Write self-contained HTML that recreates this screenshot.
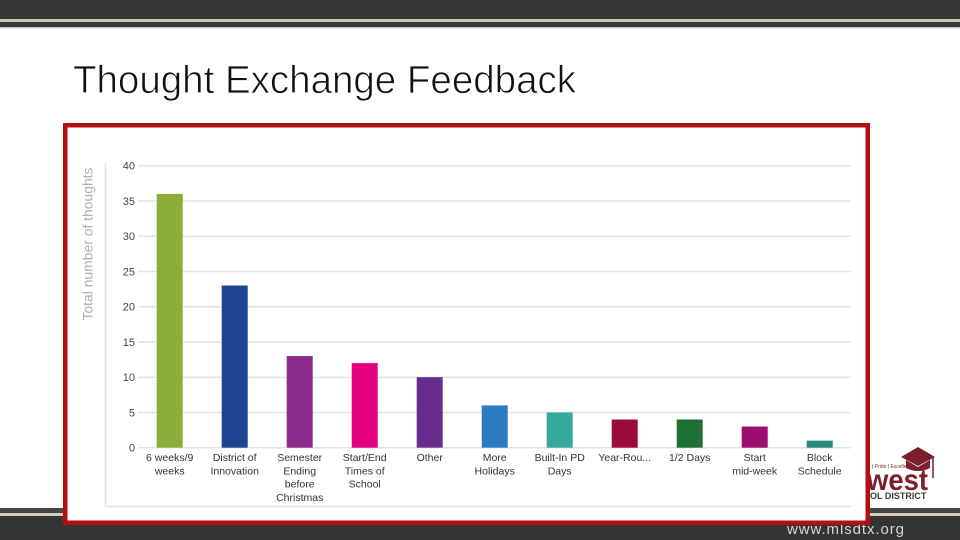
<!DOCTYPE html>
<html>
<head>
<meta charset="utf-8">
<style>
  html, body { margin: 0; padding: 0; background: #ffffff; }
  body { width: 960px; height: 540px; overflow: hidden; position: relative; }
  svg { display: block; }
  text { font-family: "Liberation Sans", Arial, sans-serif; }
</style>
</head>
<body>
<svg width="960" height="540" viewBox="0 0 960 540" xmlns="http://www.w3.org/2000/svg">
  <!-- top bar -->
  <rect x="0" y="0" width="960" height="19" fill="#363636"/>
  <rect x="0" y="19" width="960" height="3" fill="#cfc5b3"/>
  <rect x="0" y="22" width="960" height="5" fill="#3a3a3a"/>
  <rect x="0" y="27" width="960" height="1.5" fill="#c9c9c9"/>

  <!-- bottom bar -->
  <rect x="0" y="508" width="960" height="5" fill="#454545"/>
  <rect x="0" y="513" width="960" height="3" fill="#d6cdbc"/>
  <rect x="0" y="516" width="960" height="24" fill="#343434"/>
  <svg x="770" y="521" width="190" height="19" overflow="hidden">
    <text x="17" y="13" font-size="15" fill="#d8d8d8" textLength="117" lengthAdjust="spacing">www.mlsdtx.org</text>
  </svg>

  <!-- logo -->
  <g>
    <polygon points="901,457 918,447 935,457 918,466" fill="#7a1f2b"/>
    <path d="M906,460 L906,468 Q918,474 930,468 L930,460 L918,467 Z" fill="#7a1f2b"/>
    <line x1="933" y1="458" x2="933" y2="478" stroke="#7a1f2b" stroke-width="1.5"/>
    <text x="872" y="468" font-size="5" fill="#7a1f2b">| Pride | Excellence</text>
    <text x="867" y="490" font-size="30" font-weight="bold" fill="#7a1f2b" textLength="61" lengthAdjust="spacingAndGlyphs">west</text>
    <text x="870" y="499" font-size="9" font-weight="bold" fill="#3a3a3a">OL DISTRICT</text>
  </g>

  <!-- title -->
  <text x="73" y="93" font-size="38.5" fill="#111" stroke="#ffffff" stroke-width="0.8" textLength="503" lengthAdjust="spacingAndGlyphs">Thought Exchange Feedback</text>

  <!-- red box -->
  <rect x="65.25" y="125.25" width="802.5" height="397.5" fill="#ffffff" stroke="#b20f12" stroke-width="4.5"/>

  <!-- card borders -->
  <line x1="105.5" y1="163" x2="105.5" y2="507" stroke="#e2e2e2" stroke-width="1.5"/>
  <line x1="105" y1="506.5" x2="851" y2="506.5" stroke="#e2e2e2" stroke-width="1.5"/>

  <!-- gridlines -->
  <g stroke="#e4e4e4" stroke-width="1.5">
    <line x1="138" y1="447.7" x2="851" y2="447.7"/>
    <line x1="138" y1="412.45" x2="851" y2="412.45"/>
    <line x1="138" y1="377.2" x2="851" y2="377.2"/>
    <line x1="138" y1="341.95" x2="851" y2="341.95"/>
    <line x1="138" y1="306.7" x2="851" y2="306.7"/>
    <line x1="138" y1="271.45" x2="851" y2="271.45"/>
    <line x1="138" y1="236.2" x2="851" y2="236.2"/>
    <line x1="138" y1="200.95" x2="851" y2="200.95"/>
    <line x1="138" y1="165.7" x2="851" y2="165.7"/>
  </g>

  <!-- y tick labels -->
  <g font-size="11" fill="#444" text-anchor="end">
    <text x="135" y="451.7">0</text>
    <text x="135" y="416.45">5</text>
    <text x="135" y="381.2">10</text>
    <text x="135" y="345.95">15</text>
    <text x="135" y="310.7">20</text>
    <text x="135" y="275.45">25</text>
    <text x="135" y="240.2">30</text>
    <text x="135" y="204.95">35</text>
    <text x="135" y="169.7">40</text>
  </g>

  <!-- y axis title -->
  <text transform="translate(92.5,244) rotate(-90)" text-anchor="middle" font-size="13.5" fill="#b0b0b0" textLength="153" lengthAdjust="spacingAndGlyphs">Total number of thoughts</text>

  <!-- bars -->
  <rect x="156.7" y="193.9" width="26" height="253.8" fill="#8bae3a"/>
  <rect x="221.7" y="285.5" width="26" height="162.2" fill="#1f4590"/>
  <rect x="286.7" y="356.05" width="26" height="91.65" fill="#8b2a8b"/>
  <rect x="351.7" y="363.1" width="26" height="84.6" fill="#e5007d"/>
  <rect x="416.7" y="377.2" width="26" height="70.5" fill="#662d8f"/>
  <rect x="481.7" y="405.4" width="26" height="42.3" fill="#2b7bc0"/>
  <rect x="546.7" y="412.45" width="26" height="35.25" fill="#36a99c"/>
  <rect x="611.7" y="419.5" width="26" height="28.2" fill="#9c0b3b"/>
  <rect x="676.7" y="419.5" width="26" height="28.2" fill="#1f6f35"/>
  <rect x="741.7" y="426.55" width="26" height="21.15" fill="#9b0d6e"/>
  <rect x="806.7" y="440.65" width="26" height="7.05" fill="#2a8a7c"/>

  <!-- x labels -->
  <g font-size="10.5" fill="#333" text-anchor="middle">
    <text x="169.7" y="461">6 weeks/9</text>
    <text x="169.7" y="474.3">weeks</text>

    <text x="234.7" y="461">District of</text>
    <text x="234.7" y="474.3">Innovation</text>

    <text x="299.7" y="461">Semester</text>
    <text x="299.7" y="474.3">Ending</text>
    <text x="299.7" y="487.6">before</text>
    <text x="299.7" y="500.9">Christmas</text>

    <text x="364.7" y="461">Start/End</text>
    <text x="364.7" y="474.3">Times of</text>
    <text x="364.7" y="487.6">School</text>

    <text x="429.7" y="461">Other</text>

    <text x="494.7" y="461">More</text>
    <text x="494.7" y="474.3">Holidays</text>

    <text x="559.7" y="461">Built-In PD</text>
    <text x="559.7" y="474.3">Days</text>

    <text x="624.7" y="461">Year-Rou...</text>

    <text x="689.7" y="461">1/2 Days</text>

    <text x="754.7" y="461">Start</text>
    <text x="754.7" y="474.3">mid-week</text>

    <text x="819.7" y="461">Block</text>
    <text x="819.7" y="474.3">Schedule</text>
  </g>
</svg>
</body>
</html>
